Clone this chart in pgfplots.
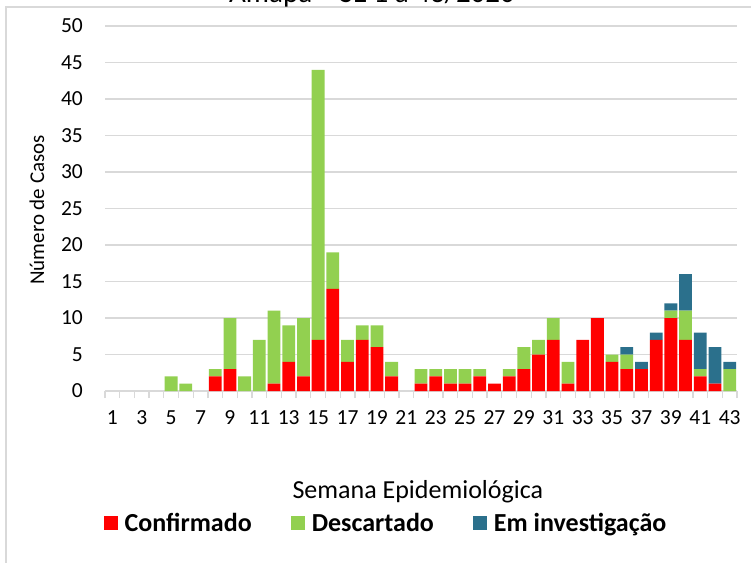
\documentclass[border=0pt]{standalone}
\usepackage{pgfplots}
\usepackage{pgfplotstable}
\pgfplotsset{compat=1.18}
\usepackage{fontspec}
\setmainfont{Carlito}
\definecolor{conf}{RGB}{255,0,0}
\definecolor{desc}{RGB}{146,208,80}
\definecolor{inv}{RGB}{43,112,140}
\definecolor{gridc}{RGB}{217,217,217}

\pgfplotstableread{
w c d i
1 0 0 0
2 0 0 0
3 0 0 0
4 0 0 0
5 0 2 0
6 0 1 0
7 0 0 0
8 2 1 0
9 3 7 0
10 0 2 0
11 0 7 0
12 1 10 0
13 4 5 0
14 2 8 0
15 7 37 0
16 14 5 0
17 4 3 0
18 7 2 0
19 6 3 0
20 2 2 0
21 0 0 0
22 1 2 0
23 2 1 0
24 1 2 0
25 1 2 0
26 2 1 0
27 1 0 0
28 2 1 0
29 3 3 0
30 5 2 0
31 7 3 0
32 1 3 0
33 7 0 0
34 10 0 0
35 4 1 0
36 3 2 1
37 3 0 1
38 7 0 1
39 10 1 1
40 7 4 5
41 2 1 5
42 1 0 5
43 0 3 1
}\data

\begin{document}
\begin{tikzpicture}[x=1pt,y=1pt]
\begin{axis}[
 at={(105pt,171pt)}, anchor=south west,
 scale only axis, width=632pt, height=365pt,
 ybar stacked, bar width=12.8pt,
 xmin=0.5, xmax=43.5, ymin=0, ymax=50,
 xtick={1,3,...,43}, minor xtick={0.5,1.5,...,43.5},
 ytick={0,5,...,50},
 axis x line*=bottom, axis y line*=left,
 axis line style={-},
 x axis line style={draw=gridc, line width=1.3pt},
 y axis line style={draw=none},
 ymajorgrids, grid style={draw=gridc, line width=1.3pt},
 major tick length=0pt, minor tick length=7pt,
 tick align=outside,
 xtick style={draw=gridc, line width=1.3pt},
 ytick style={draw=none},
 /pgf/number format/assume math mode=true,
 ticklabel style={font=\fontsize{21.5}{25}\selectfont},
 xticklabel style={anchor=center, yshift=-27pt, inner sep=0pt},
 yticklabel style={anchor=east, xshift=-22pt, inner sep=0pt},
 xlabel={Semana Epidemiológica},
 xlabel style={at={(axis description cs:0.495,-0.277)}, anchor=center, font=\fontsize{26}{30}\selectfont},
 ylabel={Número de Casos},
 ylabel style={at={(axis description cs:-0.1076,0.496)}, anchor=center, font=\fontsize{21}{25}\selectfont},
 legend columns=3,
 legend style={draw=none, fill=none, at={(0.4446,-0.362)}, anchor=center,
   font=\bfseries\fontsize{26}{30}\selectfont,
   /tikz/every odd column/.append style={column sep=5pt},
   /tikz/every even column/.append style={column sep=37pt}, inner sep=0pt},
 legend image code/.code={\fill[#1] (0pt,-7pt) rectangle (14pt,7pt);},
]
\addplot[fill=conf, draw=none] table[x=w,y=c]{\data};
\addplot[fill=desc, draw=none] table[x=w,y=d]{\data};
\addplot[fill=inv, draw=none] table[x=w,y=i]{\data};
\legend{Confirmado, Descartado, Em investigação}
\end{axis}
\draw[gridc, line width=1.3pt] (6,-5) -- (6,555) -- (760,555);
\node[font=\fontsize{29}{34}\selectfont, anchor=base] at (372,559) {Amapá – SE 1 a 43/2020};
\pgfresetboundingbox
\useasboundingbox (0,0) rectangle (751,562);
\end{tikzpicture}
\end{document}
